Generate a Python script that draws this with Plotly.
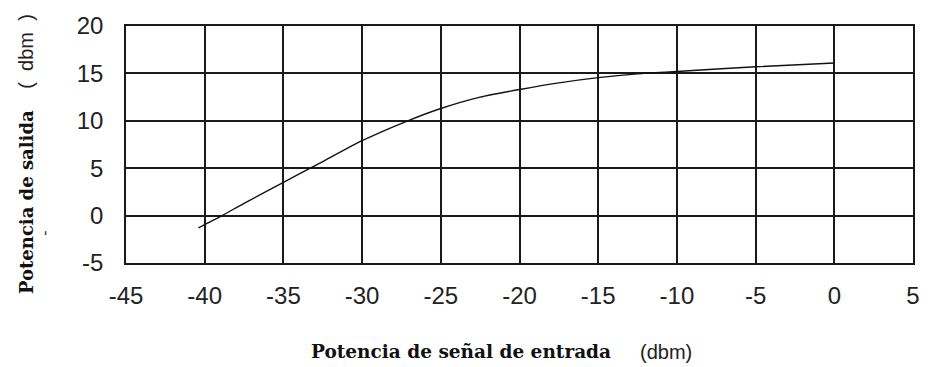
import plotly.graph_objects as go

# Input signal power (dBm) and measured output power (dBm)
entrada_dbm = [-40.4, -38.9, -37.5, -35.0, -32.5, -30.0, -27.1, -25.0, -22.5, -20.0,
               -17.5, -15.0, -12.5, -10.0, -5.0, 0.0]
salida_dbm = [-1.3, 0.0, 1.3, 3.5, 5.7, 7.9, 10.0, 11.3, 12.5, 13.3,
              14.0, 14.55, 14.95, 15.2, 15.7, 16.1]

x_ticks = [-45, -40, -35, -30, -25, -20, -15, -10, -5, 0, 5]
y_ticks = [-5, 0, 5, 10, 15, 20]

W, H = 932, 367
L, R, T, B = 126, 13, 25, 104
pw, ph = W - L - R, H - T - B

SANS = "Liberation Sans, Arial, sans-serif"
SERIF = "DejaVu Serif, serif"


def px(xp):
    return (xp - L) / pw


def py(yp):
    return (H - B - yp) / ph


fig = go.Figure()
fig.add_trace(go.Scatter(
    x=entrada_dbm, y=salida_dbm, mode="lines",
    line=dict(color="#111111", width=1.4, shape="spline", smoothing=0.6),
    showlegend=False, hoverinfo="skip",
))

axis_common = dict(
    showgrid=True, gridcolor="#1a1a1a", gridwidth=1.6,
    showline=True, linecolor="#1a1a1a", linewidth=1.6, mirror=True,
    zeroline=False, ticks="",
    tickfont=dict(family=SANS, size=24, color="#222222"),
)

fig.update_xaxes(range=[-45, 5], tickvals=x_ticks, ticktext=[str(v) for v in x_ticks],
                 ticklabelstandoff=10, **axis_common)
fig.update_yaxes(range=[-5, 20], tickvals=y_ticks, ticktext=[str(v) for v in y_ticks],
                 ticklabelstandoff=16, **axis_common)

ann = []
# x-axis title: bold serif part plus units in sans
ann.append(dict(text="<b>Potencia de señal de entrada</b>", x=px(617), y=py(352),
                xref="paper", yref="paper", xanchor="right", yanchor="middle",
                showarrow=False, font=dict(family=SERIF, size=18.5, color="#111111")))
ann.append(dict(text="(dbm)", x=px(642), y=py(352),
                xref="paper", yref="paper", xanchor="left", yanchor="middle",
                showarrow=False, font=dict(family=SANS, size=20, color="#222222")))
# y-axis title, rotated
ann.append(dict(text="<b>Potencia de salida</b>", x=px(25), y=py(202),
                xref="paper", yref="paper", xanchor="center", yanchor="middle",
                textangle=-90, showarrow=False,
                font=dict(family=SERIF, size=18, color="#111111")))
ann.append(dict(text="(\u00a0\u00a0dbm\u00a0\u00a0)", x=px(25), y=py(51),
                xref="paper", yref="paper", xanchor="center", yanchor="middle",
                textangle=-90, showarrow=False,
                font=dict(family=SANS, size=20, color="#222222")))
ann.append(dict(text="-", x=px(43), y=py(233),
                xref="paper", yref="paper", xanchor="center", yanchor="middle",
                textangle=-90, showarrow=False,
                font=dict(family=SANS, size=16, color="#333333")))

fig.update_layout(
    width=W, height=H,
    margin=dict(l=L, r=R, t=T, b=B),
    paper_bgcolor="white", plot_bgcolor="white",
    annotations=ann,
)

fig.write_html("out.html")
